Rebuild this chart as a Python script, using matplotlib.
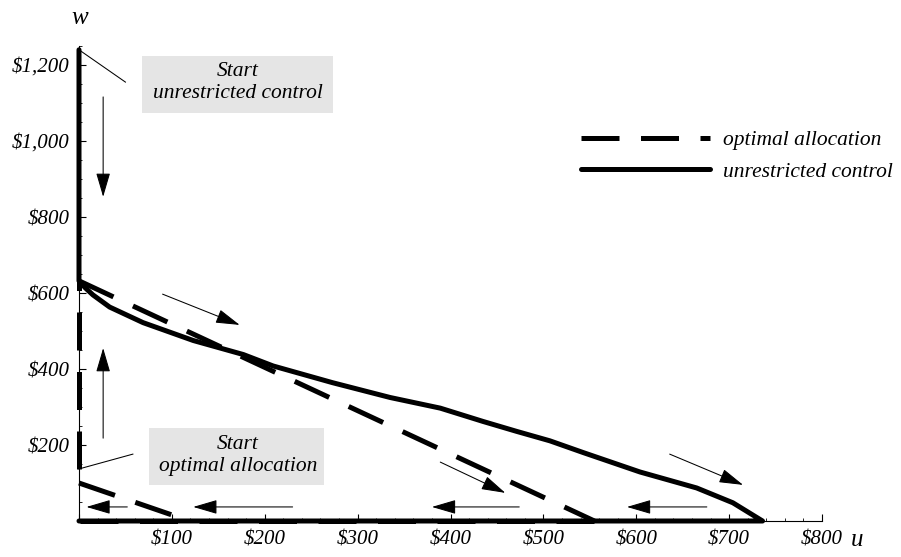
import matplotlib
matplotlib.use("Agg")
import matplotlib.pyplot as plt
from matplotlib.ticker import MultipleLocator, FuncFormatter
from matplotlib.lines import Line2D
from matplotlib.patches import Rectangle

plt.rcParams["font.family"] = ["Liberation Serif", "DejaVu Serif"]
plt.rcParams["font.style"] = "italic"

# ---- data -------------------------------------------------------------
# unrestricted control trajectory (u, w)
unres_u = [0, 0, 7, 15, 33, 69, 123, 177, 209, 273, 335, 389, 435, 471, 507,
           543, 604, 665, 704, 736, 0]
unres_w = [1240, 632, 613, 595, 563, 522, 475, 438, 408, 364, 325, 297, 262,
           236, 211, 180, 129, 87, 48, 0, 0]

# optimal allocation trajectory, piece by piece
opt_rise_u = [0, 0]
opt_rise_w = [137, 632]
opt_fall_u = [0, 555]
opt_fall_w = [632, 0]
opt_back_u = [555, 0]
opt_back_w = [0, 0]
opt_second_u = [0, 119]
opt_second_w = [100, 0]

# direction arrows: (tail_u, tail_w, tip_u, tip_w)
arrow_tail_u = [26, 26, 90, 389, 636, 52, 230, 474, 676]
arrow_tail_w = [1116, 218, 597, 155, 176, 37, 37, 37, 37]
arrow_tip_u = [26, 26, 173, 459, 715, 8, 123, 380, 590]
arrow_tip_w = [853, 455, 516, 74, 95, 37, 37, 37, 37]

series_labels = ["optimal allocation", "unrestricted control"]
start_labels = ["Start\nunrestricted control", "Start\noptimal allocation"]

# ---- figure -------------------------------------------------------------
W, H = 901, 557
fig = plt.figure(figsize=(W / 100, H / 100), dpi=100)
ax = fig.add_axes([79 / W, (H - 521) / H, 743 / W, 475 / H])
ax.set_xlim(0, 800)
ax.set_ylim(0, 1250)

for s in ("top", "right"):
    ax.spines[s].set_visible(False)
for s in ("left", "bottom"):
    ax.spines[s].set_linewidth(0.8)

LW = 3.6
opt_ls = (0, (7.6, 4.3))

for uu, ww in ((opt_rise_u, opt_rise_w), (opt_fall_u, opt_fall_w),
               (opt_back_u, opt_back_w), (opt_second_u, opt_second_w)):
    ax.plot(uu, ww, color="black", lw=LW, linestyle=opt_ls,
            dash_capstyle="butt", clip_on=False, zorder=3)

ax.plot(unres_u, unres_w, color="black", lw=LW, solid_capstyle="round",
        solid_joinstyle="round", clip_on=False, zorder=4)

for tu, tw, hu, hw in zip(arrow_tail_u, arrow_tail_w, arrow_tip_u, arrow_tip_w):
    ax.annotate("", xy=(hu, hw), xytext=(tu, tw),
                arrowprops=dict(arrowstyle="-|>,head_length=0.75,head_width=0.22",
                                mutation_scale=20, lw=0.75, color="black",
                                shrinkA=0, shrinkB=0),
                annotation_clip=False, zorder=5)

# pointer lines to the starting points
ax.plot([0, 50], [1240, 1155], color="black", lw=0.75, clip_on=False, zorder=5)
ax.plot([0, 58], [137, 176], color="black", lw=0.75, clip_on=False, zorder=5)

# labelled boxes for the starting points
for (x0, y0, x1, y1), txt, (cx, cy) in (
        ((142, 56, 333, 113), start_labels[0], (238, 82.5)),
        ((149, 428, 324, 485), start_labels[1], (238, 455.5))):
    fig.add_artist(Rectangle((x0 / W, 1 - y1 / H), (x1 - x0) / W, (y1 - y0) / H,
                             transform=fig.transFigure, facecolor="#e5e5e5",
                             edgecolor="none", zorder=1))
    fig.text(cx / W, 1 - cy / H, txt, ha="center", va="center",
             multialignment="center", fontsize=15.5, linespacing=1.16, zorder=2)

# ticks
ax.xaxis.set_major_locator(MultipleLocator(100))
ax.xaxis.set_minor_locator(MultipleLocator(20))
ax.yaxis.set_major_locator(MultipleLocator(200))
ax.yaxis.set_minor_locator(MultipleLocator(50))
fmt = FuncFormatter(lambda v, p: "" if v == 0 else "\\$" + format(int(round(v)), ","))
ax.xaxis.set_major_formatter(fmt)
ax.yaxis.set_major_formatter(fmt)
ax.tick_params(which="major", direction="in", length=5, width=0.8, labelsize=15)
ax.tick_params(which="minor", direction="in", length=2.5, width=0.6)
ax.tick_params(axis="x", which="major", pad=7)
ax.tick_params(axis="y", which="major", pad=6.5)

# axis names
fig.text(80 / W, 1 - 18 / H, "w", ha="center", va="center", fontsize=18)
fig.text(857 / W, 1 - 540 / H, "u", ha="center", va="center", fontsize=18)

# legend
handles = [Line2D([], [], color="black", lw=LW, linestyle=opt_ls),
           Line2D([], [], color="black", lw=LW, solid_capstyle="round")]
ax.legend(handles, series_labels, loc="upper left",
          bbox_to_anchor=(581 / W, 1 - 130 / H), bbox_transform=fig.transFigure,
          frameon=False, fontsize=15.5, handlelength=6.0, handletextpad=0.6,
          labelspacing=0.55, borderpad=0, borderaxespad=0)

fig.savefig("out.png", dpi=100)
